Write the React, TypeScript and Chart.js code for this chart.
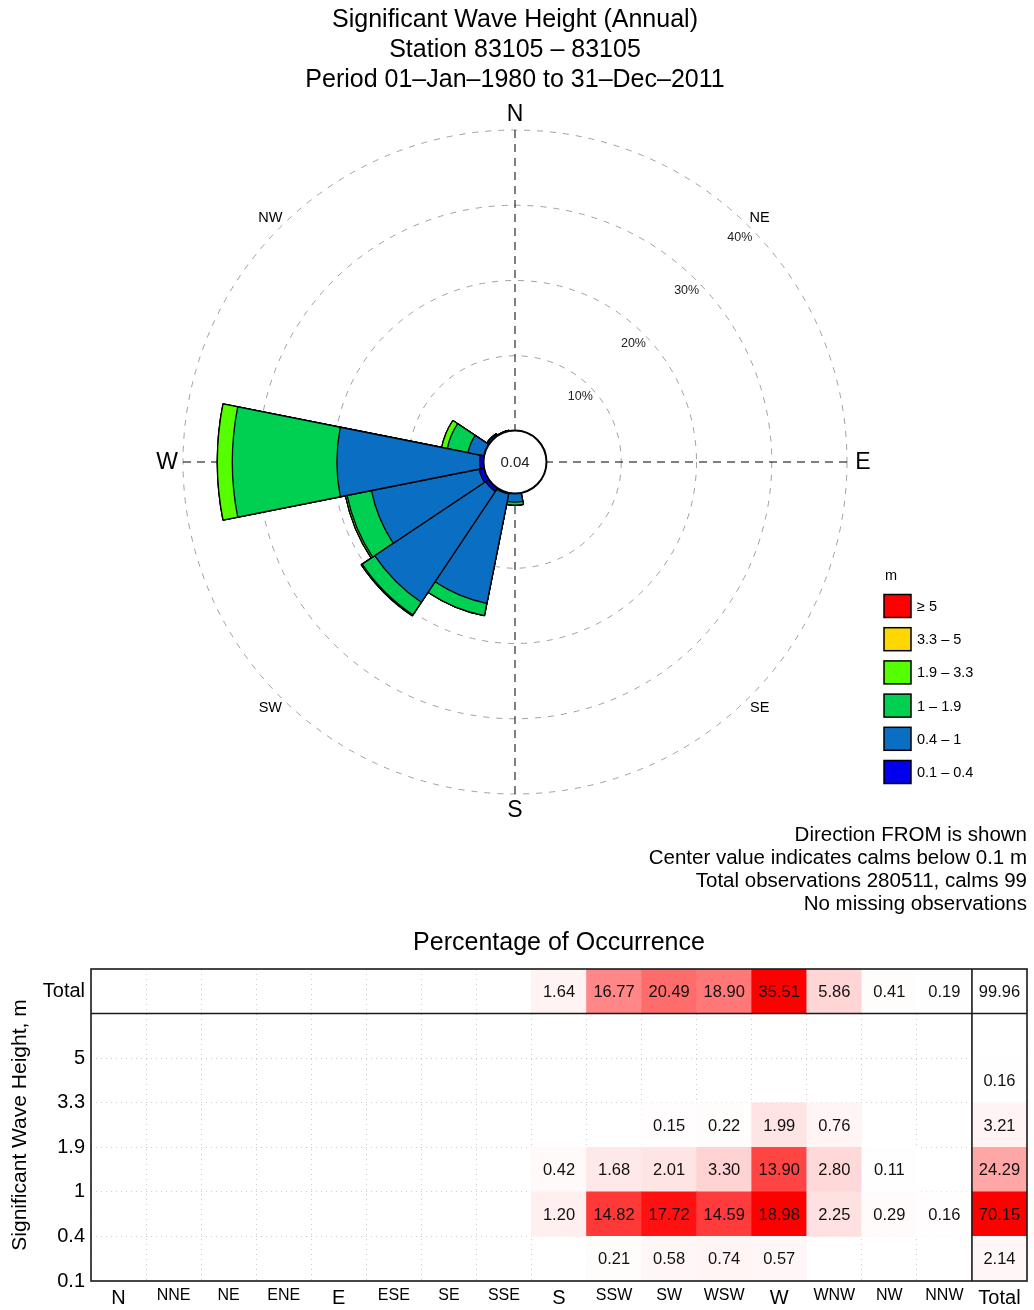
import React, { useEffect, useRef } from 'react';
import { Chart, registerables } from 'chart.js';

Chart.register(...registerables);

const FONT = '"Liberation Sans", Arial, Helvetica, sans-serif';

// ---------------- data ----------------
const directions = ['N', 'NNE', 'NE', 'ENE', 'E', 'ESE', 'SE', 'SSE', 'S', 'SSW', 'SW', 'WSW', 'W', 'WNW', 'NW', 'NNW'];
const heightBins = ['0.1 – 0.4', '0.4 – 1', '1 – 1.9', '1.9 – 3.3', '3.3 – 5', '≥ 5'];
const heightEdges = ['0.1', '0.4', '1', '1.9', '3.3', '5'];
const binColors = ['#0000ee', '#0a6fc2', '#00d052', '#55ff00', '#ffd700', '#ff0000'];

// percentage of occurrence per direction (null = blank cell)
const hs01to04 = [null, null, null, null, null, null, null, null, null, 0.21, 0.58, 0.74, 0.57, null, null, null];
const hs04to1 = [null, null, null, null, null, null, null, null, 1.20, 14.82, 17.72, 14.59, 18.98, 2.25, 0.29, 0.16];
const hs1to19 = [null, null, null, null, null, null, null, null, 0.42, 1.68, 2.01, 3.30, 13.90, 2.80, 0.11, null];
const hs19to33 = [null, null, null, null, null, null, null, null, null, null, 0.15, 0.22, 1.99, 0.76, null, null];
const hs33to5 = [null, null, null, null, null, null, null, null, null, null, null, null, null, null, null, null];
const hs5plus = [null, null, null, null, null, null, null, null, null, null, null, null, null, null, null, null];
const directionTotals = [null, null, null, null, null, null, null, null, 1.64, 16.77, 20.49, 18.90, 35.51, 5.86, 0.41, 0.19];
const binTotals = [2.14, 70.15, 24.29, 3.21, 0.16, null];
const grandTotal = 99.96;
const calmsPercent = 0.04;
const ringValues = [10, 20, 30, 40];

const titleLines = [
  'Significant Wave Height (Annual)',
  'Station 83105 – 83105',
  'Period 01–Jan–1980 to 31–Dec–2011',
];
const footnoteLines = [
  'Direction FROM is shown',
  'Center value indicates calms below 0.1 m',
  'Total observations 280511, calms 99',
  'No missing observations',
];
const compassLabels = ['N', 'NE', 'E', 'SE', 'S', 'SW', 'W', 'NW'];
const tableTitle = 'Percentage of Occurrence';
const columnLabels = [...directions, 'Total'];
const totalLabel = 'Total';
const yAxisTitle = 'Significant Wave Height, m';

const binSeries = [hs01to04, hs04to1, hs1to19, hs19to33, hs33to5, hs5plus];

function heat(t: number) {
  const c = Math.round(255 * (1 - Math.max(0, Math.min(1, t))));
  return `rgb(255,${c},${c})`;
}

// ---------------- wind rose ----------------
const rosePlugin = {
  id: 'roseDecor',
  beforeDatasetsDraw(chart: any) {
    const s = chart.scales.r;
    const ctx = chart.ctx;
    const cx = s.xCenter;
    const cy = s.yCenter;
    const R = s.getDistanceFromCenterForValue(s.max);
    ctx.save();
    ctx.strokeStyle = '#000';
    ctx.lineWidth = 1;
    ctx.setLineDash([8, 6]);
    for (let k = 0; k < 4; k++) {
      const a = (k * Math.PI) / 2;
      ctx.beginPath();
      ctx.moveTo(cx + R * Math.cos(a), cy + R * Math.sin(a));
      ctx.lineTo(cx, cy);
      ctx.stroke();
    }
    ctx.restore();
  },
  afterDatasetsDraw(chart: any) {
    const s = chart.scales.r;
    const ctx = chart.ctx;
    const cx = s.xCenter;
    const cy = s.yCenter;
    const r0 = s.getDistanceFromCenterForValue(0);
    ctx.save();
    // centre circle (calms)
    ctx.beginPath();
    ctx.arc(cx, cy, r0 + 0.5, 0, Math.PI * 2);
    ctx.fillStyle = '#fff';
    ctx.fill();
    ctx.lineWidth = 2;
    ctx.strokeStyle = '#000';
    ctx.stroke();
    ctx.fillStyle = '#222';
    ctx.font = `15px ${FONT}`;
    ctx.textAlign = 'center';
    ctx.textBaseline = 'middle';
    ctx.fillText(calmsPercent.toFixed(2), cx, cy + 1);

    // ring labels along the NE diagonal
    ctx.font = `12.5px ${FONT}`;
    ctx.fillStyle = '#222';
    ringValues.forEach((v) => {
      const d = s.getDistanceFromCenterForValue(v) - 14;
      const a = -Math.PI / 4;
      ctx.fillText(`${v}%`, cx + d * Math.cos(a), cy + d * Math.sin(a));
    });

    // compass labels
    compassLabels.forEach((lab, i) => {
      const a = -Math.PI / 2 + (i * Math.PI) / 4;
      const cardinal = i % 2 === 0;
      const d = cardinal ? 348 : 346;
      ctx.font = `${cardinal ? 23 : 14.5}px ${FONT}`;
      ctx.fillStyle = '#000';
      ctx.fillText(lab, cx + d * Math.cos(a), cy + d * Math.sin(a) + 1);
    });

    // legend
    const lx = cx + 369;
    ctx.textAlign = 'left';
    ctx.font = `14.5px ${FONT}`;
    ctx.fillStyle = '#000';
    ctx.fillText('m', lx + 1, cy + 114);
    for (let k = heightBins.length - 1, row = 0; k >= 0; k--, row++) {
      const yc = cy + 144 + row * 33.2;
      ctx.fillStyle = binColors[k];
      ctx.fillRect(lx, yc - 11.5, 27, 23);
      ctx.lineWidth = 1.5;
      ctx.strokeStyle = '#000';
      ctx.strokeRect(lx, yc - 11.5, 27, 23);
      ctx.fillStyle = '#000';
      ctx.fillText(heightBins[k], lx + 33, yc + 1);
    }

    // footnote
    ctx.textAlign = 'right';
    ctx.font = `20.5px ${FONT}`;
    footnoteLines.forEach((t, i) => {
      ctx.fillText(t, 1027, 835 + i * 23);
    });
    ctx.restore();
  },
};

function RoseChart() {
  const ref = useRef<HTMLCanvasElement>(null);
  useEffect(() => {
    const cumulative = binSeries.map((_, k) =>
      directions.map((__, d) => {
        let s = 0;
        for (let j = 0; j <= k; j++) s += binSeries[j][d] ?? 0;
        return s;
      })
    );
    const chart = new Chart(ref.current as HTMLCanvasElement, {
      type: 'polarArea',
      data: {
        labels: directions,
        datasets: cumulative.map((data, k) => ({
          label: heightBins[k],
          data,
          backgroundColor: binColors[k],
          borderColor: '#000',
          borderWidth: 1.3,
        })),
      },
      options: {
        responsive: false,
        animation: false,
        devicePixelRatio: 1,
        events: [],
        layout: { padding: { left: 183, right: 187, top: 0, bottom: 126 } },
        scales: {
          r: {
            min: -4.12,
            max: 40,
            startAngle: -11.25,
            ticks: { display: false, stepSize: 10 },
            grid: {
              circular: true,
              lineWidth: 1,
              color: (c: any) => (c.tick && c.tick.value > 0 ? '#a0a0a0' : 'rgba(0,0,0,0)'),
            },
            border: { dash: [6, 7] },
            angleLines: { display: false },
            pointLabels: { display: false },
          },
        },
        plugins: {
          legend: { display: false },
          tooltip: { enabled: false },
          title: {
            display: true,
            text: titleLines,
            color: '#000',
            font: { family: FONT, size: 25, weight: 'normal', lineHeight: 1.2 },
            padding: { top: 5, bottom: 35 },
          },
        },
      } as any,
      plugins: [rosePlugin],
    });
    return () => chart.destroy();
  }, []);
  return (
    <canvas
      ref={ref}
      width={1034}
      height={920}
      style={{ position: 'absolute', left: 0, top: 0, width: 1034, height: 920 }}
    />
  );
}

// ---------------- occurrence table ----------------
const tableRows: (number | null)[][] = [
  ...binSeries.map((row, i) => [...row, binTotals[i]]),
  [...directionTotals, grandTotal],
];

function cellColor(r: number, c: number) {
  const v = tableRows[r][c];
  if (v == null) return 'rgba(0,0,0,0)';
  const bodyMax = Math.max(...binSeries.flat().map((x) => x ?? 0));
  const totalColMax = Math.max(...binTotals.map((x) => x ?? 0));
  const totalRowMax = Math.max(...directionTotals.map((x) => x ?? 0));
  if (r === binSeries.length) return c === directions.length ? '#ffffff' : heat(v / totalRowMax);
  if (c === directions.length) return heat(v / totalColMax);
  return heat(v / bodyMax);
}

const tablePlugin = {
  id: 'tableDecor',
  afterDatasetsDraw(chart: any) {
    const ctx = chart.ctx;
    ctx.save();
    ctx.font = `16.5px ${FONT}`;
    ctx.fillStyle = '#111';
    ctx.textAlign = 'center';
    ctx.textBaseline = 'middle';
    chart.data.datasets.forEach((_: any, r: number) => {
      const meta = chart.getDatasetMeta(r);
      meta.data.forEach((el: any, c: number) => {
        const v = tableRows[r][c];
        if (v == null) return;
        const p = el.getCenterPoint();
        ctx.fillText(v.toFixed(2), p.x, p.y + 1);
      });
    });
    const { left, right, top, bottom } = chart.chartArea;
    const xs = chart.scales.x;
    const ys = chart.scales.y;
    ctx.strokeStyle = '#1a1a1a';
    ctx.lineWidth = 1.6;
    ctx.strokeRect(left, top, right - left, bottom - top);
    const ySep = ys.getPixelForValue(binSeries.length);
    const xSep = (xs.getPixelForTick(directions.length - 1) + xs.getPixelForTick(directions.length)) / 2;
    ctx.beginPath();
    ctx.moveTo(left, ySep);
    ctx.lineTo(right, ySep);
    ctx.moveTo(xSep, top);
    ctx.lineTo(xSep, bottom);
    ctx.stroke();
    ctx.restore();
  },
};

function OccurrenceTable() {
  const ref = useRef<HTMLCanvasElement>(null);
  useEffect(() => {
    const yTicks = [0, 1, 2, 3, 4, 5, binSeries.length + 0.5];
    const chart = new Chart(ref.current as HTMLCanvasElement, {
      type: 'bar',
      data: {
        labels: columnLabels,
        datasets: tableRows.map((vals, r) => ({
          label: r < binSeries.length ? heightBins[r] : totalLabel,
          data: vals.map((v) => (v == null ? null : [r, r + 1])),
          backgroundColor: (c: any) => cellColor(r, c.dataIndex),
          borderWidth: 0,
          grouped: false,
          barPercentage: 1,
          categoryPercentage: 1,
        })),
      },
      options: {
        responsive: false,
        animation: false,
        devicePixelRatio: 1,
        events: [],
        layout: { padding: { left: 0, right: 7, top: 0, bottom: 0 } },
        scales: {
          x: {
            type: 'category',
            offset: true,
            grid: { offset: true, color: 'rgba(0,0,0,0.2)', lineWidth: 1, drawTicks: false },
            border: { display: false, dash: [1, 4] },
            ticks: {
              autoSkip: false,
              maxRotation: 0,
              padding: 5,
              color: '#000',
              font: (c: any) => {
                const lab = columnLabels[c.index] || '';
                const big = lab.length === 1 || lab === totalLabel;
                return { family: FONT, size: big ? 20 : 16 };
              },
            },
            afterFit: (s: any) => {
              s.height = 29;
            },
          },
          y: {
            type: 'linear',
            min: 0,
            max: binSeries.length + 1,
            afterBuildTicks: (s: any) => {
              s.ticks = yTicks.map((v) => ({ value: v }));
            },
            grid: {
              drawTicks: false,
              lineWidth: 1,
              color: (c: any) =>
                c.tick && c.tick.value > 0 && c.tick.value < binSeries.length ? 'rgba(0,0,0,0.2)' : 'rgba(0,0,0,0)',
            },
            border: { display: false, dash: [1, 4] },
            ticks: {
              padding: 6,
              color: '#000',
              font: { family: FONT, size: 20 },
              callback: (v: any) => (v > binSeries.length ? totalLabel : heightEdges[v] ?? ''),
            },
            title: {
              display: true,
              text: yAxisTitle,
              color: '#000',
              font: { family: FONT, size: 21 },
              padding: { top: 8, bottom: 0 },
            },
            afterFit: (s: any) => {
              s.width = 91;
            },
          },
        },
        plugins: {
          legend: { display: false },
          tooltip: { enabled: false },
          title: {
            display: true,
            text: tableTitle,
            color: '#000',
            fullSize: false,
            font: { family: FONT, size: 25, weight: 'normal', lineHeight: 1.2 },
            padding: { top: 8, bottom: 11 },
          },
        },
      } as any,
      plugins: [tablePlugin],
    });
    return () => chart.destroy();
  }, []);
  return (
    <canvas
      ref={ref}
      width={1034}
      height={390}
      style={{ position: 'absolute', left: 0, top: 920, width: 1034, height: 390 }}
    />
  );
}

export default function App() {
  Chart.defaults.font.family = FONT;
  Chart.defaults.color = '#000';
  return (
    <div style={{ position: 'absolute', left: 0, top: 0, width: 1034, height: 1310, background: '#fff', overflow: 'hidden' }}>
      <RoseChart />
      <OccurrenceTable />
    </div>
  );
}
